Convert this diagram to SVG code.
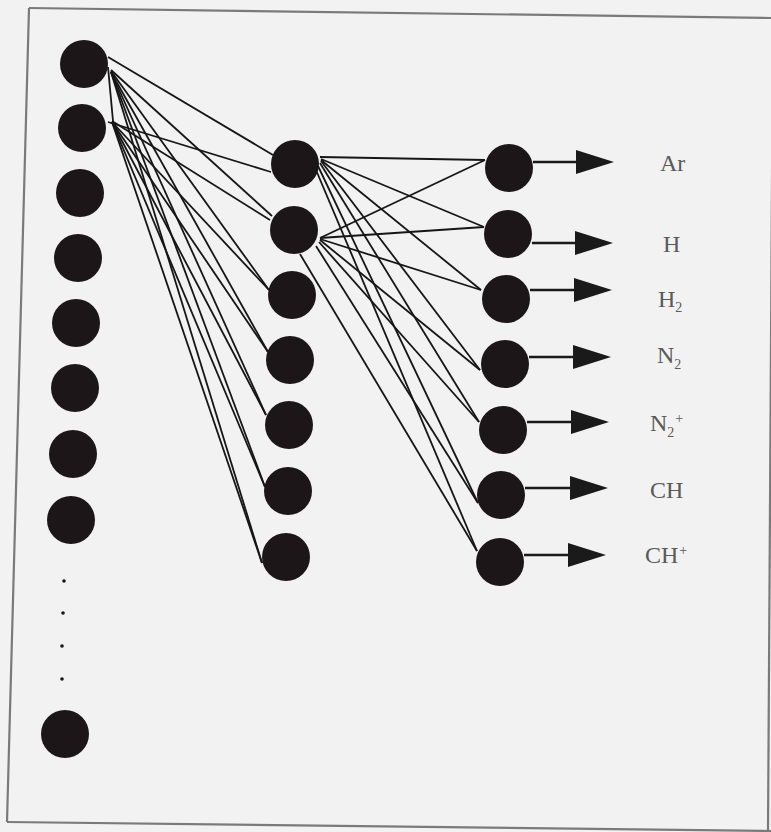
<svg xmlns="http://www.w3.org/2000/svg" width="771" height="832" viewBox="0 0 771 832">
<style>
.n{fill:#1c1619}
.c line{stroke:#161616;stroke-width:1.8;fill:none}
.fr{stroke:#7a7a7a;stroke-width:2.2;fill:none}
.lb{font-family:"Liberation Serif","Times New Roman",serif;font-size:24px;fill:#5a5a5a}
.sb{font-size:14px}
.ar line{stroke:#1a1a1a;stroke-width:2.4}
.ar polygon{fill:#1a1a1a}
</style>
<rect x="0" y="0" width="771" height="832" fill="#f2f2f2"/>
<g id="frame">
<line class="fr" x1="29" y1="8" x2="771" y2="18"/>
<line class="fr" x1="29" y1="8" x2="7" y2="822"/>
<line class="fr" x1="7" y1="822" x2="771" y2="831"/>
<line class="fr" x1="773" y1="18" x2="768" y2="832" stroke="#9a9a9a"/>
</g>
<g id="connectors" class="c">
<line x1="108" y1="57" x2="273" y2="155"/>
<line x1="111" y1="70" x2="272" y2="216"/>
<line x1="111" y1="71" x2="269" y2="290"/>
<line x1="111" y1="72" x2="268" y2="352"/>
<line x1="111" y1="72" x2="266" y2="415"/>
<line x1="111" y1="72" x2="265" y2="487"/>
<line x1="111" y1="72" x2="262" y2="563"/>
<line x1="108" y1="67" x2="113" y2="121"/>
<line x1="108" y1="122" x2="271" y2="172"/>
<line x1="112" y1="121" x2="270" y2="220"/>
<line x1="112" y1="122" x2="269" y2="290"/>
<line x1="112" y1="122" x2="268" y2="352"/>
<line x1="112" y1="122" x2="266" y2="415"/>
<line x1="112" y1="122" x2="265" y2="487"/>
<line x1="112" y1="122" x2="262" y2="563"/>
<line x1="320" y1="157" x2="485" y2="160"/>
<line x1="321" y1="159" x2="484" y2="227"/>
<line x1="321" y1="160" x2="481" y2="290"/>
<line x1="321" y1="161" x2="480" y2="370"/>
<line x1="320" y1="163" x2="479" y2="422"/>
<line x1="318" y1="166" x2="478" y2="503"/>
<line x1="316" y1="170" x2="477" y2="551"/>
<line x1="320" y1="238" x2="485" y2="160"/>
<line x1="320" y1="238" x2="484" y2="227"/>
<line x1="320" y1="239" x2="481" y2="290"/>
<line x1="320" y1="240" x2="480" y2="370"/>
<line x1="319" y1="242" x2="479" y2="422"/>
<line x1="316" y1="246" x2="478" y2="503"/>
<line x1="300" y1="254" x2="477" y2="551"/>
</g>
<g id="input">
<g id="in1"><circle class="n" cx="84" cy="64" r="24"/></g>
<g id="in2"><circle class="n" cx="82" cy="128" r="24"/></g>
<g id="in3"><circle class="n" cx="80" cy="193" r="24"/></g>
<g id="in4"><circle class="n" cx="78" cy="258" r="24"/></g>
<g id="in5"><circle class="n" cx="76" cy="323" r="24"/></g>
<g id="in6"><circle class="n" cx="75" cy="388" r="24"/></g>
<g id="in7"><circle class="n" cx="73" cy="454" r="24"/></g>
<g id="in8"><circle class="n" cx="71" cy="520" r="24"/></g>
<g id="dots">
<circle class="n" cx="64" cy="581" r="1.8"/>
<circle class="n" cx="63" cy="613" r="1.8"/>
<circle class="n" cx="62" cy="646" r="1.8"/>
<circle class="n" cx="62" cy="679" r="1.8"/>
</g>
<g id="in9"><circle class="n" cx="65" cy="734" r="24"/></g>
</g>
<g id="hidden">
<g id="h1"><circle class="n" cx="295" cy="164" r="24"/></g>
<g id="h2"><circle class="n" cx="294" cy="230" r="24"/></g>
<g id="h3"><circle class="n" cx="292" cy="295" r="24"/></g>
<g id="h4"><circle class="n" cx="290" cy="360" r="24"/></g>
<g id="h5"><circle class="n" cx="289" cy="425" r="24"/></g>
<g id="h6"><circle class="n" cx="288" cy="491" r="24"/></g>
<g id="h7"><circle class="n" cx="286" cy="557" r="24"/></g>
</g>
<g id="outputs">
<g id="o1"><circle class="n" cx="509" cy="168" r="24"/></g>
<g id="o2"><circle class="n" cx="508" cy="234" r="24"/></g>
<g id="o3"><circle class="n" cx="506" cy="299" r="24"/></g>
<g id="o4"><circle class="n" cx="505" cy="364" r="24"/></g>
<g id="o5"><circle class="n" cx="503" cy="430" r="24"/></g>
<g id="o6"><circle class="n" cx="501" cy="495" r="24"/></g>
<g id="o7"><circle class="n" cx="500" cy="562" r="24"/></g>
</g>
<g id="arrows" class="ar">
<line x1="533" y1="162" x2="578" y2="162"/><polygon points="576,150 614,162 576,174"/>
<line x1="532" y1="243" x2="577" y2="243"/><polygon points="575,231 613,243 575,255"/>
<line x1="530" y1="290" x2="576" y2="290"/><polygon points="574,278 612,290 574,302"/>
<line x1="529" y1="357" x2="575" y2="357"/><polygon points="573,345 611,357 573,369"/>
<line x1="527" y1="422" x2="573" y2="422"/><polygon points="571,410 609,422 571,434"/>
<line x1="525" y1="488" x2="572" y2="488"/><polygon points="570,476 608,488 570,500"/>
<line x1="524" y1="555" x2="570" y2="555"/><polygon points="568,543 606,555 568,567"/>
</g>
<g id="labels" class="lb">
<text x="660" y="171">Ar</text>
<text x="663" y="252">H</text>
<text x="658" y="307">H<tspan class="sb" dy="5">2</tspan></text>
<text x="657" y="363">N<tspan class="sb" dy="6">2</tspan></text>
<text x="650" y="431">N<tspan class="sb" dy="6">2</tspan><tspan class="sb" dx="1" dy="-14">+</tspan></text>
<text x="650" y="498">CH</text>
<text x="645" y="563">CH<tspan class="sb" dx="1" dy="-8">+</tspan></text>
</g>
</svg>
